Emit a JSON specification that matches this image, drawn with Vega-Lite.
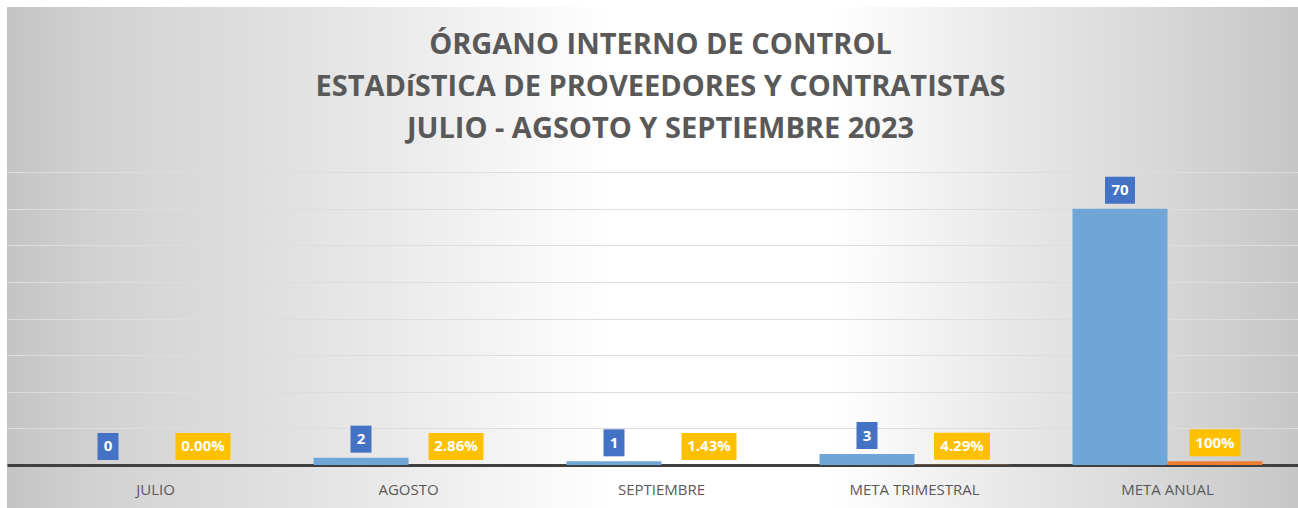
{
  "$schema": "https://vega.github.io/schema/vega-lite/v6.json",
  "width": 1291,
  "height": 501,
  "autosize": {"type": "none"},
  "padding": {"left": 7, "top": 7, "right": 0, "bottom": 0},
  "background": "#ffffff",
  "title": {
    "text": ["ÓRGANO INTERNO DE CONTROL", "ESTADíSTICA DE PROVEEDORES Y CONTRATISTAS", "JULIO - AGSOTO Y SEPTIEMBRE 2023"],
    "font": "Open Sans",
    "fontWeight": "bold",
    "fontSize": 29,
    "lineHeight": 42,
    "color": "#595959",
    "anchor": "middle",
    "offset": -137,
    "dx": 8
  },
  "data": {
    "values": [
      {"mes": "JULIO", "serie": "Cantidad", "valor": 0, "etiqueta": "0"},
      {"mes": "AGOSTO", "serie": "Cantidad", "valor": 2, "etiqueta": "2"},
      {"mes": "SEPTIEMBRE", "serie": "Cantidad", "valor": 1, "etiqueta": "1"},
      {"mes": "META TRIMESTRAL", "serie": "Cantidad", "valor": 3, "etiqueta": "3"},
      {"mes": "META ANUAL", "serie": "Cantidad", "valor": 70, "etiqueta": "70"},
      {"mes": "JULIO", "serie": "Porcentaje", "valor": 0, "etiqueta": "0.00%"},
      {"mes": "AGOSTO", "serie": "Porcentaje", "valor": 0.0286, "etiqueta": "2.86%"},
      {"mes": "SEPTIEMBRE", "serie": "Porcentaje", "valor": 0.0143, "etiqueta": "1.43%"},
      {"mes": "META TRIMESTRAL", "serie": "Porcentaje", "valor": 0.0429, "etiqueta": "4.29%"},
      {"mes": "META ANUAL", "serie": "Porcentaje", "valor": 1, "etiqueta": "100%"}
    ]
  },
  "encoding": {
    "x": {
      "field": "mes",
      "type": "nominal",
      "sort": ["JULIO", "AGOSTO", "SEPTIEMBRE", "META TRIMESTRAL", "META ANUAL"],
      "scale": {"paddingInner": 0, "paddingOuter": 0.0514, "align": 0.846},
      "axis": {
        "title": null,
        "orient": "bottom",
        "offset": -43,
        "domain": true,
        "domainColor": "#404040",
        "domainWidth": 3,
        "ticks": false,
        "tickSize": 0,
        "labelAngle": 0,
        "labelFont": "Open Sans",
        "labelFontSize": 15,
        "labelColor": "#595959",
        "labelBaseline": "middle",
        "labelPadding": 24,
        "grid": false
      }
    },
    "xOffset": {
      "field": "serie",
      "type": "nominal",
      "sort": ["Cantidad", "Porcentaje"],
      "scale": {"paddingInner": 0, "paddingOuter": 0.3316}
    },
    "y": {
      "field": "valor",
      "type": "quantitative",
      "stack": null,
      "scale": {"domain": [-11.75, 125.1], "nice": false, "zero": false},
      "axis": {
        "title": null,
        "values": [10, 20, 30, 40, 50, 60, 70, 80],
        "labels": false,
        "ticks": false,
        "domain": false,
        "grid": true,
        "gridWidth": 1.2,
        "encode": {
          "grid": {
            "update": {
              "stroke": {"signal": "'rgb(' + round(122 + datum.value * 1.48) + ',' + round(122 + datum.value * 1.48) + ',' + round(122 + datum.value * 1.48) + ')'"}
            }
          }
        }
      }
    }
  },
  "layer": [
    {
      "mark": {"type": "bar"},
      "encoding": {
        "y2": {"datum": 0},
        "color": {"condition": {"test": "datum.serie === 'Cantidad'", "value": "#6FA5D7"}, "value": "#ED7D31"}
      }
    },
    {
      "mark": {"type": "bar", "yOffset": -32, "y2Offset": -5},
      "encoding": {
        "y2": {"field": "valor"},
        "size": {
          "field": "etiqueta",
          "type": "ordinal",
          "legend": null,
          "scale": {
            "type": "ordinal",
            "domain": ["0", "2", "1", "3", "70", "0.00%", "2.86%", "1.43%", "4.29%", "100%"],
            "range": [21, 21, 21, 21, 30, 55, 55, 55, 56, 51]
          }
        },
        "color": {"condition": {"test": "datum.serie === 'Cantidad'", "value": "#4472C4"}, "value": "#FFC000"}
      }
    },
    {
      "mark": {"type": "text", "dy": -18.5, "baseline": "middle", "align": "center", "font": "Open Sans", "fontWeight": "bold", "fontSize": 15, "color": "#ffffff"},
      "encoding": {
        "text": {"field": "etiqueta"}
      }
    }
  ],
  "config": {
    "view": {
      "stroke": null,
      "fill": {
        "gradient": "linear",
        "x1": 0, "y1": 0, "x2": 1, "y2": 0,
        "stops": [
          {"offset": 0, "color": "#c4c4c4"},
          {"offset": 0.07, "color": "#d2d2d2"},
          {"offset": 0.19, "color": "#dedede"},
          {"offset": 0.30, "color": "#eaeaea"},
          {"offset": 0.38, "color": "#f4f4f4"},
          {"offset": 0.47, "color": "#ffffff"},
          {"offset": 0.64, "color": "#ffffff"},
          {"offset": 0.77, "color": "#e9e9e9"},
          {"offset": 0.89, "color": "#d8d8d8"},
          {"offset": 1, "color": "#c6c6c6"}
        ]
      }
    }
  }
}
